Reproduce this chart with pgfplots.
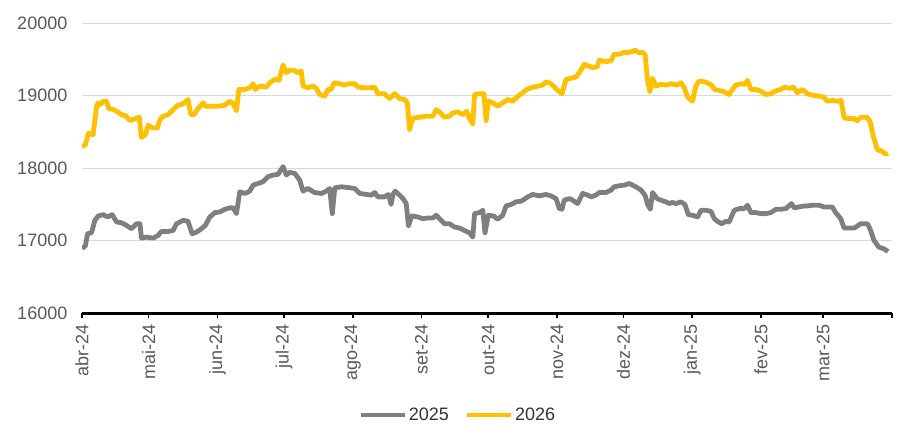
\documentclass[border=0pt]{standalone}
\usepackage{pgfplots}
\pgfplotsset{compat=1.18}
\usepackage{fontspec}
\setmainfont{Liberation Sans}
\definecolor{c25}{HTML}{7F7F7F}
\definecolor{c26}{HTML}{FFC000}
\definecolor{txt}{HTML}{595959}
\definecolor{legtxt}{HTML}{333333}
\definecolor{gridc}{HTML}{D9D9D9}
\pgfplotstableread{
x y
0 16898
1.5 16926
2.5 17097
4.3 17111
5.8 17282
7.3 17342
9.6 17361
11.5 17329
13.6 17361
15.6 17259
17.8 17250
20 17213
22.3 17166
24.6 17236
26.1 17236
26.8 17037
29.1 17051
32 17037
34.3 17074
35.8 17129
38.8 17129
41.1 17143
42.6 17236
45.6 17282
47.8 17268
49.6 17097
51.6 17120
53.8 17166
55.6 17213
57.6 17329
59.9 17389
62.1 17398
64.4 17435
66.6 17454
68.1 17454
69.6 17375
71.1 17676
73.4 17653
75.6 17685
77.1 17768
79.3 17791
81.6 17815
83.8 17884
86.1 17907
88.3 17916
90.6 18023
92.1 17907
93.6 17944
95.9 17930
98.1 17837
99.6 17685
101.8 17722
104.8 17666
107.9 17653
110.1 17685
111.6 17722
112.8 17375
113.9 17731
116.9 17745
120.6 17731
122.9 17722
125.2 17653
128.2 17639
130.4 17630
131.9 17666
133.3 17606
136.3 17606
138.1 17639
139.3 17500
140.1 17639
141.1 17685
143.1 17630
144.6 17583
146.1 17514
147.1 17204
148.6 17343
151.3 17329
153.6 17305
155.8 17315
158.1 17315
159.6 17352
161.1 17305
163.3 17236
165.6 17236
167.8 17190
170.1 17176
172.3 17143
174.6 17111
176.1 17051
176.9 17375
179.1 17389
180.6 17421
181.6 17111
183.1 17352
185.5 17342
187.3 17296
189.6 17352
191.1 17481
193.3 17500
195.6 17537
197.9 17546
200.9 17606
203.1 17639
206.1 17620
209.1 17639
211.3 17620
213.6 17583
215.1 17444
216.3 17435
217.3 17560
219.6 17583
221.1 17560
223.3 17514
225.6 17653
227.9 17630
229.4 17606
231.6 17630
233.1 17666
236.1 17666
238.4 17699
239.8 17745
242.1 17759
244.4 17768
246.6 17791
248.1 17768
249.6 17745
251.9 17699
253.7 17630
254.9 17500
256.1 17435
257.1 17666
259.1 17583
260.9 17560
263.1 17537
264.6 17514
266.1 17530
267.6 17514
269.9 17537
271.7 17500
273.2 17361
275.1 17352
277.4 17329
278.9 17421
281.1 17421
283.4 17407
284.9 17305
286.4 17268
288.2 17236
290.1 17268
291.6 17259
293.9 17421
296.1 17444
298.4 17444
299.9 17491
301.4 17389
303.6 17389
305.9 17375
308.1 17375
310.4 17389
312.7 17435
314.9 17435
317.2 17444
319.7 17514
320.9 17454
323.1 17467
325.4 17481
326.9 17481
329.1 17491
332.1 17491
334.4 17467
335.6 17467
338.1 17467
339.6 17389
341.9 17305
343.4 17176
345.6 17176
348.1 17176
349.4 17204
350.9 17236
353.9 17236
355.1 17166
356.9 17004
359.1 16912
361.4 16889
363.2 16852
}\tabA
\pgfplotstableread{
x y
0 18301
1.5 18324
2.5 18440
3 18486
5 18463
6.6 18856
7.3 18903
8.3 18880
9.6 18926
11 18926
12.1 18824
14.1 18810
15.6 18787
17.8 18741
20 18718
21.6 18657
23.9 18685
25.8 18704
26.8 18426
28.6 18463
29.8 18592
32 18555
34 18555
35.1 18671
36.6 18718
38.8 18741
40.6 18796
41.8 18833
43.3 18870
45.6 18889
47.8 18949
49 18741
50.5 18741
52.3 18824
54.6 18903
55.6 18856
58.3 18856
61.3 18856
64.4 18870
66.6 18926
68.1 18889
69.6 18796
70.7 19088
73.4 19088
75.6 19111
77.1 19167
78.1 19088
80.1 19134
83.1 19120
84.6 19180
86.9 19227
88.8 19213
90.6 19426
92.1 19319
93.6 19352
95.5 19352
97 19319
98.8 19343
99.6 19134
101.8 19111
104.1 19134
105.6 19102
107.1 19018
109.4 18995
110.8 19088
112.3 19088
113.6 19180
116.1 19167
118 19148
120.6 19167
122.9 19167
124.3 19120
127.4 19111
130 19111
131.8 19120
133.3 19028
136.3 19028
138.6 18963
140.9 19028
143.1 18963
145.4 18949
146.6 18903
147.6 18532
149.1 18694
152.1 18704
155.1 18718
158.1 18718
159.6 18810
161.1 18778
163.3 18704
165.6 18718
167.1 18764
169.3 18778
171.6 18741
173.4 18787
174.6 18685
176.1 18611
176.9 19018
179.1 19028
181.1 19028
182.1 18657
183.1 18926
185.1 18903
187.3 18856
189.6 18903
191.9 18949
194.1 18926
196.4 18995
198.6 19042
200.4 19088
202.4 19111
205.3 19134
207.6 19148
209.1 19194
211.3 19167
213.1 19111
215.1 19055
216.3 19028
218.1 19227
220.3 19241
222.6 19259
224.1 19319
226.4 19435
228.1 19412
230.1 19389
232.1 19398
233.1 19491
236.1 19472
238.4 19481
239.8 19574
242.1 19574
244.1 19597
245.9 19597
248.1 19611
249.2 19630
250.7 19597
252.6 19597
253.7 19574
254.9 19204
255.9 19055
257.1 19241
258.6 19134
260.9 19157
263.1 19148
265.4 19167
268.1 19148
269.9 19180
271.4 19111
272.9 18981
275.1 18926
276.6 19134
278.1 19204
280.4 19194
282.6 19167
284.1 19134
284.9 19088
287.1 19074
289.4 19055
291.6 19018
293.1 19088
294.6 19148
296.9 19167
298.7 19157
299.9 19213
301.4 19088
303.6 19088
305.9 19065
308.1 19018
310.4 19028
312.2 19065
314.9 19088
316.7 19120
318.6 19102
320.6 19120
322.4 19042
324.6 19088
326.9 19028
329.1 19009
332.1 18995
334.4 18981
335.6 18926
338.1 18935
340.4 18926
342.1 18935
343.4 18694
345.6 18685
348.1 18685
349.4 18657
350.9 18704
353.6 18704
355.1 18648
356.6 18440
358.4 18255
360.2 18241
362.1 18194
363.2 18208
}\tabB
\begin{document}
\begin{tikzpicture}
\begin{axis}[
  scale only axis, width=810bp, height=290bp,
  xmin=0, xmax=365, ymin=16000, ymax=20000,
  ytick={16000,17000,18000,19000,20000},
  scaled y ticks=false,
  xtick={0,30,61,91,122,153,183,214,244,275,306,334,365},
  xticklabels={abr-24,mai-24,jun-24,jul-24,ago-24,set-24,out-24,nov-24,dez-24,jan-25,fev-25,mar-25,{}},
  axis x line*=bottom, axis y line*=left,
  y axis line style={draw=none},
  x axis line style={black, line width=2.4bp},
  ytick style={draw=none},
  xtick style={black, line width=1.6bp},
  tick align=outside, major tick length=4.5bp,
  ymajorgrids, major grid style={gridc, line width=1.3bp},
  tick label style={font=\fontsize{18bp}{21bp}\selectfont, text=txt},
  /pgf/number format/assume math mode=true,
  yticklabel={\pgfmathprintnumber[fixed,precision=0,1000 sep={}]{\tick}},
  yticklabel style={anchor=east, inner sep=0pt},
  yticklabel shift=10bp,
  xticklabel style={rotate=90, anchor=east, inner sep=0pt},
  xticklabel shift=6.5bp,
  legend style={at={(0.464,-0.35)}, anchor=center, draw=none, fill=none,
    legend columns=2, font=\fontsize{18bp}{21bp}\selectfont, text=legtxt,
    /tikz/every even column/.append style={column sep=14bp},
    nodes={inner sep=2bp}},
  legend image code/.code={\draw[#1, line width=4.2bp] (0bp,0bp) -- (44bp,0bp);},
  legend cell align=left,
]
\addplot[c25, line width=4.8bp, line join=round, no marks] table[x=x,y=y] {\tabA};
\addlegendentry{2025}
\addplot[c26, line width=4.8bp, line join=round, no marks] table[x=x,y=y] {\tabB};
\addlegendentry{2026}
\end{axis}
\path (current axis.south west) +(-82bp,-130bp);
\path (current axis.north east) +(21bp,23.3bp);
\end{tikzpicture}
\end{document}
